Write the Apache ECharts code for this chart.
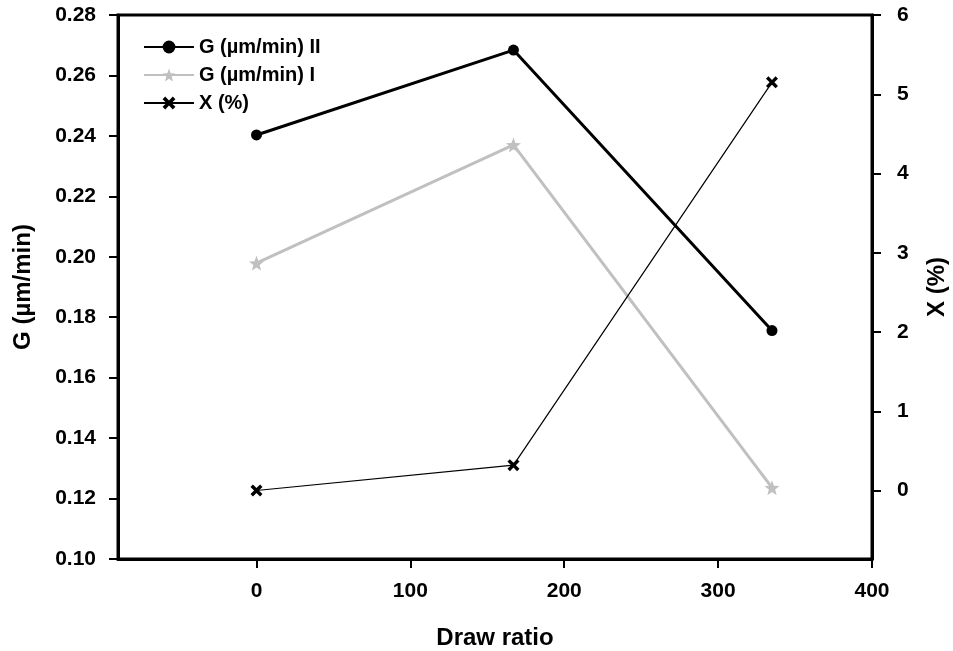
<!DOCTYPE html>
<html>
<head>
<meta charset="utf-8">
<script src="https://cdn.jsdelivr.net/npm/echarts@6/dist/echarts.min.js"></script>
<style>html,body{margin:0;padding:0;background:#fff}#c{width:953px;height:651px}</style>
</head>
<body>
<div id="c"></div>
<script>
// Data
const drawRatio = [0, 167, 335];
const gII = [0.2403, 0.2684, 0.1756];
const gI = [0.1979, 0.2370, 0.1236];
const xPct = [0, 0.32, 5.15];
const xTicks = [0, 100, 200, 300, 400];
const rightTicks = [0, 1, 2, 3, 4, 5, 6];
const seriesNames = ['G (µm/min) II', 'G (µm/min) I', 'X (%)'];

const FONT = '"Liberation Sans", Arial, sans-serif';
const starPath = 'path://M5,0 L6.3,3.6 L10,3.8 L7.1,6.1 L8.1,9.8 L5,7.7 L1.9,9.8 L2.9,6.1 L0,3.8 L3.7,3.6 Z';
const crossPath = 'path://M0,2 L2,0 L5,3 L8,0 L10,2 L7,5 L10,8 L8,10 L5,7 L2,10 L0,8 L3,5 Z';

const pairs = (xs, ys) => xs.map((x, i) => [x, ys[i]]);

const chart = echarts.init(document.getElementById('c'), null, {renderer: 'canvas'});
chart.setOption({
  animation: false,
  backgroundColor: '#fff',
  grid: {left: 118, right: 81, top: 15, bottom: 92, show: true, borderColor: '#000', borderWidth: 3,
         backgroundColor: 'transparent', containLabel: false, outerBoundsMode: 'none'},
  legend: {
    orient: 'vertical', left: 138, top: 32, itemWidth: 50, itemHeight: 16, itemGap: 8,
    data: seriesNames,
    textStyle: {fontFamily: FONT, fontSize: 20, fontWeight: 'bold', color: '#000'}
  },
  xAxis: {
    type: 'value', min: -90, max: 400,
    name: 'Draw ratio', nameLocation: 'middle', nameGap: 67,
    nameTextStyle: {fontFamily: FONT, fontSize: 24, fontWeight: 'bold', color: '#000'},
    axisLine: {onZero: false, lineStyle: {color: '#000', width: 3}},
    axisTick: {inside: false, length: 9, lineStyle: {color: '#000', width: 2}, customValues: xTicks},
    axisLabel: {fontFamily: FONT, fontSize: 21, fontWeight: 'bold', color: '#000', margin: 22, customValues: xTicks},
    splitLine: {show: false}
  },
  yAxis: [{
    type: 'value', min: 0.10, max: 0.28, interval: 0.02, position: 'left',
    name: 'G (µm/min)', nameLocation: 'middle', nameGap: 83, nameRotate: 90,
    nameTextStyle: {fontFamily: FONT, fontSize: 24, fontWeight: 'bold', color: '#000'},
    axisLine: {show: true, onZero: false, lineStyle: {color: '#000', width: 3}},
    axisTick: {show: true, inside: false, length: 9, lineStyle: {color: '#000', width: 2}},
    axisLabel: {fontFamily: FONT, fontSize: 21, fontWeight: 'bold', color: '#000', margin: 22, formatter: v => v.toFixed(2)},
    splitLine: {show: false}
  }, {
    type: 'value', min: -0.864, max: 6, position: 'right',
    name: 'X (%)', nameLocation: 'middle', nameGap: 53, nameRotate: 90,
    nameTextStyle: {fontFamily: FONT, fontSize: 24, fontWeight: 'bold', color: '#000'},
    axisLine: {show: true, onZero: false, lineStyle: {color: '#000', width: 3}},
    axisTick: {show: true, inside: false, length: 9, lineStyle: {color: '#000', width: 2}, customValues: rightTicks},
    axisLabel: {fontFamily: FONT, fontSize: 21, fontWeight: 'bold', color: '#000', margin: 25, customValues: rightTicks},
    splitLine: {show: false}
  }],
  series: [{
    name: seriesNames[0], type: 'line', yAxisIndex: 0,
    data: pairs(drawRatio, gII),
    symbol: 'circle', symbolSize: 11,
    lineStyle: {color: '#000', width: 3}, itemStyle: {color: '#000'}
  }, {
    name: seriesNames[1], type: 'line', yAxisIndex: 0,
    data: pairs(drawRatio, gI),
    symbol: starPath, symbolSize: 15,
    lineStyle: {color: '#c0c0c0', width: 3}, itemStyle: {color: '#c0c0c0'}
  }, {
    name: seriesNames[2], type: 'line', yAxisIndex: 1,
    data: pairs(drawRatio, xPct),
    symbol: crossPath, symbolSize: 12,
    lineStyle: {color: '#000', width: 1.2}, itemStyle: {color: '#000'}
  }]
});
</script>
</body>
</html>
